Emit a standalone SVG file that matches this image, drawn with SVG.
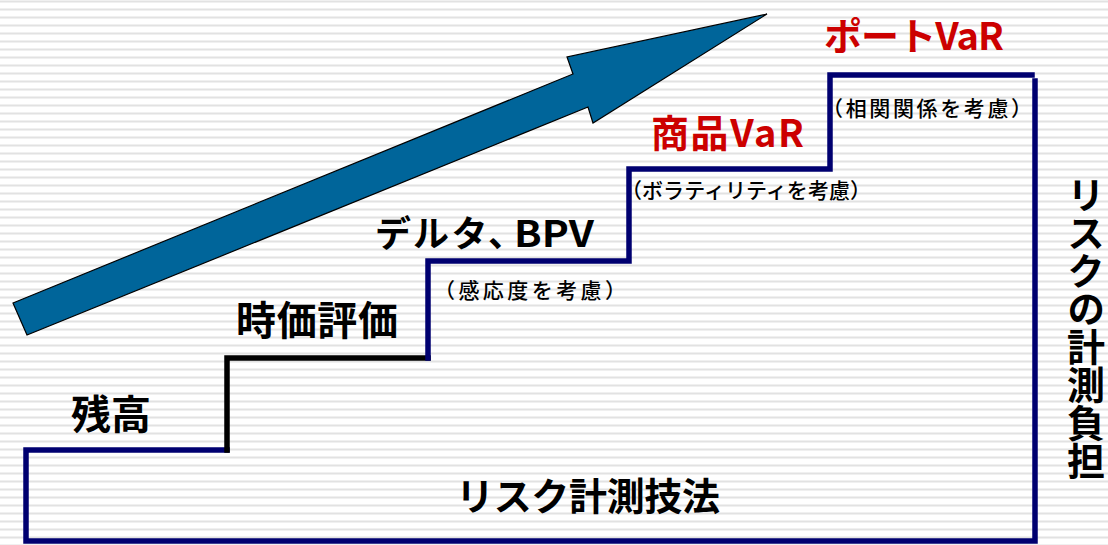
<svg xmlns="http://www.w3.org/2000/svg" width="1108" height="545" viewBox="0 0 1108 545">
<defs>
<pattern id="stripes" x="0" y="0" width="8" height="8" patternUnits="userSpaceOnUse">
<rect x="0" y="0" width="8" height="8" fill="#ffffff"/>
<rect x="0" y="0.5" width="8" height="2" fill="#e2e2e2"/>
</pattern>
<style>
.t{font-family:"Noto Sans CJK JP","Noto Sans",sans-serif;font-weight:bold;fill:#000}
.r{fill:#cc0000}
.s{font-family:"Noto Sans CJK JP","Noto Sans",sans-serif;font-weight:500;fill:#000;font-size:21px}
.v{writing-mode:vertical-rl}
.p{font-feature-settings:"palt"}
.navy{fill:none;stroke:#000070;stroke-width:5.5;stroke-linejoin:miter;stroke-linecap:square}
.blk{fill:none;stroke:#000;stroke-width:5.5;stroke-linecap:square}
</style>
</defs>
<rect x="0" y="0" width="1108" height="545" fill="url(#stripes)"/>
<g id="arrow">
<polygon points="13,303 573,74 567,57 767,14 593,123 588,107 27,335" fill="#00659a" stroke="#000" stroke-width="1.2" stroke-linejoin="miter"/>
</g>
<g id="connectors">
<polyline class="navy" points="227,450 26,450 26,541 1035,541 1035,81"/>
<polyline class="blk" points="227,450 227,358 428,358"/>
<polyline class="navy" points="428,358 428,261 629,261 629,169 830,169 830,75 1032,75"/>
</g>
<g id="n-zandaka"><text class="t" x="111" y="429" font-size="40" text-anchor="middle" textLength="80">残高</text></g>
<g id="n-jika"><text class="t" x="317" y="335" font-size="40" text-anchor="middle" textLength="162">時価評価</text></g>
<g id="n-delta"><text class="t p" x="376" y="247" font-size="36" textLength="130">デルタ、</text><text class="t" x="514" y="247" font-size="36" textLength="80" lengthAdjust="spacingAndGlyphs">BPV</text></g>
<g id="n-delta-note"><text class="s" x="434" y="298" textLength="192">（感応度を考慮）</text></g>
<g id="n-shohin"><text class="t r" x="651" y="147" font-size="38" textLength="153">商品VaR</text></g>
<g id="n-shohin-note"><text class="s" x="621" y="198" textLength="250">（ボラティリティを考慮）</text></g>
<g id="n-port"><text class="t r" x="824" y="50" font-size="38" textLength="180">ポートVaR</text></g>
<g id="n-port-note"><text class="s" x="822" y="116" textLength="210">（相関関係を考慮）</text></g>
<g id="n-method"><text class="t" x="588" y="510" font-size="38" text-anchor="middle" textLength="264">リスク計測技法</text></g>
<g id="n-burden"><text class="t v" x="1086" y="176" font-size="38">リスクの計測負担</text></g>
</svg>
